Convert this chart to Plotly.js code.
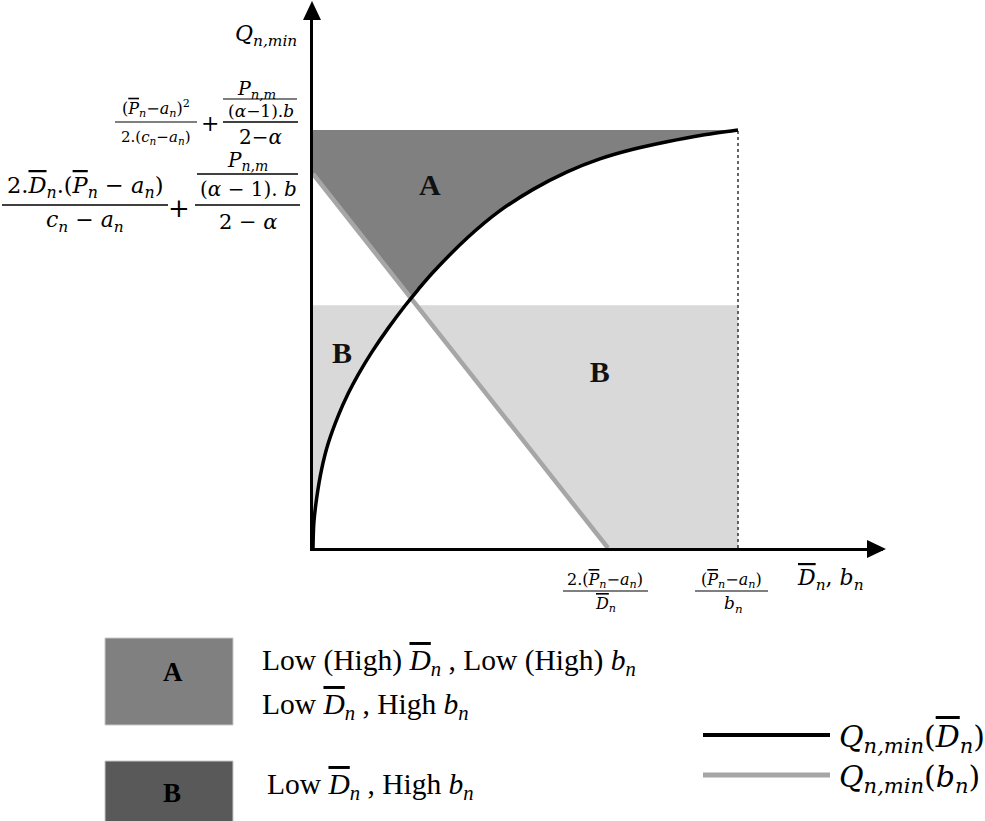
<!DOCTYPE html>
<html>
<head>
<meta charset="utf-8">
<script src="https://cdn.plot.ly/plotly-3.0.1.min.js"></script>
<style>
  html, body { margin: 0; padding: 0; background: #fff; }
  #chart { width: 985px; height: 821px; }
</style>
</head>
<body>
<div id="chart"></div>
<script>
// Q_min as a function of D (black curve)
const curveX = [0, 0.002, 0.009, 0.020, 0.036, 0.060, 0.083, 0.107, 0.138, 0.177, 0.216, 0.248, 0.282, 0.362, 0.440, 0.518, 0.598, 0.675, 0.753, 0.833, 0.911, 1];
const curveY = [0, 0.060, 0.122, 0.187, 0.251, 0.318, 0.370, 0.416, 0.468, 0.526, 0.579, 0.619, 0.659, 0.741, 0.807, 0.858, 0.900, 0.931, 0.954, 0.972, 0.987, 1];

// Q_min as a function of b (grey straight line)
const lineX = [0, 0.694];
const lineY = [0.895, 0];

// region limits
const xEnd = 1;
const yTop = 1;
const bLevel = 0.581;
const crossX = 0.2306, crossY = 0.597;  // curve meets grey line
const curveAtB = 0.2176;                // curve at the B level
const lineAtB = 0.2435;                 // grey line at the B level

const regionNames = ['A', 'B', 'B'];
const regionX = [0.275, 0.068, 0.675];
const regionY = [0.862, 0.461, 0.414];

// page geometry (pixels)
const L = 313, R = 102, T = 8, B = 273;
const W = 985 - L - R, H = 821 - T - B;
const BOT = 821 - B;
const px = x => (x - L) / W;
const py = y => (BOT - y) / H;

const MATH = 'DejaVu Serif';
const TEXT = 'Liberation Serif';
const ov = s => '<span style="text-decoration:overline">' + s + '</span>';
const sub = s => '<sub><i>' + s + '</i></sub>';
const Pbar = '<i>' + ov('P') + '</i>' + sub('n');
const Dbar = '<i>' + ov('D') + '</i>' + sub('n');
const an = '<i>a</i>' + sub('n');
const cn = '<i>c</i>' + sub('n');
const bn = '<i>b</i>' + sub('n');
const Pnm = '<i>P</i>' + sub('n,m');
const Qmin = '<i>Q</i>' + sub('n,min');

// polygons for the shaded regions
const aX = [0, xEnd], aY = [yTop, yTop];
for (let i = curveX.length - 1; i >= 0; i--) {
    if (curveX[i] > crossX) { aX.push(curveX[i]); aY.push(curveY[i]); }
}
aX.push(crossX, lineX[0]); aY.push(crossY, lineY[0]);

const b1X = [0, curveAtB], b1Y = [bLevel, bLevel];
for (let i = curveX.length - 1; i >= 0; i--) {
    if (curveX[i] < curveAtB) { b1X.push(curveX[i]); b1Y.push(curveY[i]); }
}
const b2X = [lineAtB, xEnd, xEnd, lineX[1]];
const b2Y = [bLevel, bLevel, 0, 0];

const data = [
    { x: aX, y: aY, type: 'scatter', mode: 'lines', fill: 'toself', fillcolor: '#808080', line: { width: 0 }, hoverinfo: 'skip' },
    { x: b1X, y: b1Y, type: 'scatter', mode: 'lines', fill: 'toself', fillcolor: '#d9d9d9', line: { width: 0 }, hoverinfo: 'skip' },
    { x: b2X, y: b2Y, type: 'scatter', mode: 'lines', fill: 'toself', fillcolor: '#d9d9d9', line: { width: 0 }, hoverinfo: 'skip' },
    { x: [xEnd, xEnd], y: [0, yTop], type: 'scatter', mode: 'lines', line: { color: '#333', width: 1.5, dash: 'dot' } },
    { x: lineX, y: lineY, type: 'scatter', mode: 'lines', line: { color: '#a6a6a6', width: 4.5 } },
    { x: curveX, y: curveY, type: 'scatter', mode: 'lines', line: { color: '#000', width: 3.5, shape: 'spline', smoothing: 0.8 } },
    { x: regionX, y: regionY, type: 'scatter', mode: 'text', text: regionNames.map(s => '<b>' + s + '</b>'),
      textfont: { family: TEXT, size: 30, color: '#111' }, textposition: 'middle center' }
];

const annotations = [];
const shapes = [];
function label(text, x, y, size, anchor, family) {
    annotations.push({
        xref: 'paper', yref: 'paper', x: px(x), y: py(y), text: text, showarrow: false,
        xanchor: anchor || 'center', yanchor: 'middle',
        font: { family: family || MATH, size: size, color: '#000' }
    });
}
function bar(x0, x1, y, w) {
    shapes.push({ type: 'line', xref: 'paper', yref: 'paper', x0: px(x0), x1: px(x1), y0: py(y), y1: py(y),
        line: { color: '#000', width: w || 1.2 } });
}

// y-axis title
label(Qmin, 266, 35, 22);

// y tick 1 : (P-a)^2 / 2(c-a) + (P/((α-1)b)) / (2-α)
label('(' + Pbar + '−' + an + ')<sup>2</sup>', 156, 108, 16);
bar(115, 197, 122);
label('2.(' + cn + '−' + an + ')', 156, 137, 15);
label('+', 210, 124, 22);
label(Pnm, 256, 89, 19);
bar(223, 297, 99);
label('(<i>α</i>−1).<i>b</i>', 261, 111, 17);
bar(223, 298, 122, 1.5);
label('2−<i>α</i>', 260, 137, 20);

// y tick 2 : 2D(P-a)/(c-a) + ...
label('2.' + Dbar + '.(' + Pbar + ' − ' + an + ')', 85, 187, 22.5);
bar(2, 168, 205, 1.5);
label(cn + ' − ' + an, 85, 222, 22);
label('+', 179, 208, 26);
label(Pnm, 247, 161, 20);
bar(197, 298, 174, 1.5);
label('(<i>α</i> − 1). <i>b</i>', 248, 189, 20);
bar(195, 300, 205, 1.5);
label('2 − <i>α</i>', 248, 222, 21);

// x ticks and title
label('2.(' + Pbar + '−' + an + ')', 605, 580, 16);
bar(563, 648, 591);
label(Dbar, 605, 604, 16);
label('(' + Pbar + '−' + an + ')', 731, 580, 16);
bar(695, 768, 591);
label(bn, 733, 604, 17);
label(Dbar + ', ' + bn, 830, 579, 22);

// axis arrow heads
const tri = (a, b, c) => 'M' + px(a[0]) + ',' + py(a[1]) + ' L' + px(b[0]) + ',' + py(b[1]) + ' L' + px(c[0]) + ',' + py(c[1]) + ' Z';
shapes.push({ type: 'path', xref: 'paper', yref: 'paper', path: tri([312, 1], [303, 20], [321, 20]), fillcolor: '#000', line: { width: 0 } });
shapes.push({ type: 'path', xref: 'paper', yref: 'paper', path: tri([886, 549], [867, 540], [867, 558]), fillcolor: '#000', line: { width: 0 } });

// legend boxes
shapes.push({ type: 'rect', xref: 'paper', yref: 'paper', x0: px(105), x1: px(233), y0: py(638), y1: py(725), fillcolor: '#808080', line: { color: '#c8c8c8', width: 1 } });
shapes.push({ type: 'rect', xref: 'paper', yref: 'paper', x0: px(105), x1: px(233), y0: py(761), y1: py(822), fillcolor: '#595959', line: { color: '#c8c8c8', width: 1 } });
label('<b>A</b>', 173, 672, 27, 'center', TEXT);
label('<b>B</b>', 172, 793, 27, 'center', TEXT);

label('Low (High) ' + Dbar + ' , Low (High) ' + bn, 260, 662, 29.5, 'left', TEXT);
label('Low ' + Dbar + ' , High ' + bn, 260, 706, 29.5, 'left', TEXT);
label('Low ' + Dbar + ' , High ' + bn, 265, 786, 29.5, 'left', TEXT);

// legend lines
shapes.push({ type: 'line', xref: 'paper', yref: 'paper', x0: px(703), x1: px(830), y0: py(735), y1: py(735), line: { color: '#000', width: 4 } });
shapes.push({ type: 'line', xref: 'paper', yref: 'paper', x0: px(703), x1: px(830), y0: py(775), y1: py(775), line: { color: '#a6a6a6', width: 5 } });
label(Qmin + '(' + Dbar + ')', 837, 738, 30, 'left');
label(Qmin + '(' + bn + ')', 837, 778, 30, 'left');

const layout = {
    width: 985,
    height: 821,
    margin: { l: L, r: R, t: T, b: B },
    paper_bgcolor: '#fff',
    plot_bgcolor: '#fff',
    showlegend: false,
    xaxis: { range: [0, W / 425], showgrid: false, zeroline: false, showticklabels: false, ticks: '',
             showline: true, linecolor: '#000', linewidth: 3, fixedrange: true },
    yaxis: { range: [0, H / 418], showgrid: false, zeroline: false, showticklabels: false, ticks: '',
             showline: true, linecolor: '#000', linewidth: 3, fixedrange: true },
    annotations: annotations,
    shapes: shapes
};

Plotly.newPlot('chart', data, layout, { displayModeBar: false, staticPlot: true });
</script>
</body>
</html>
